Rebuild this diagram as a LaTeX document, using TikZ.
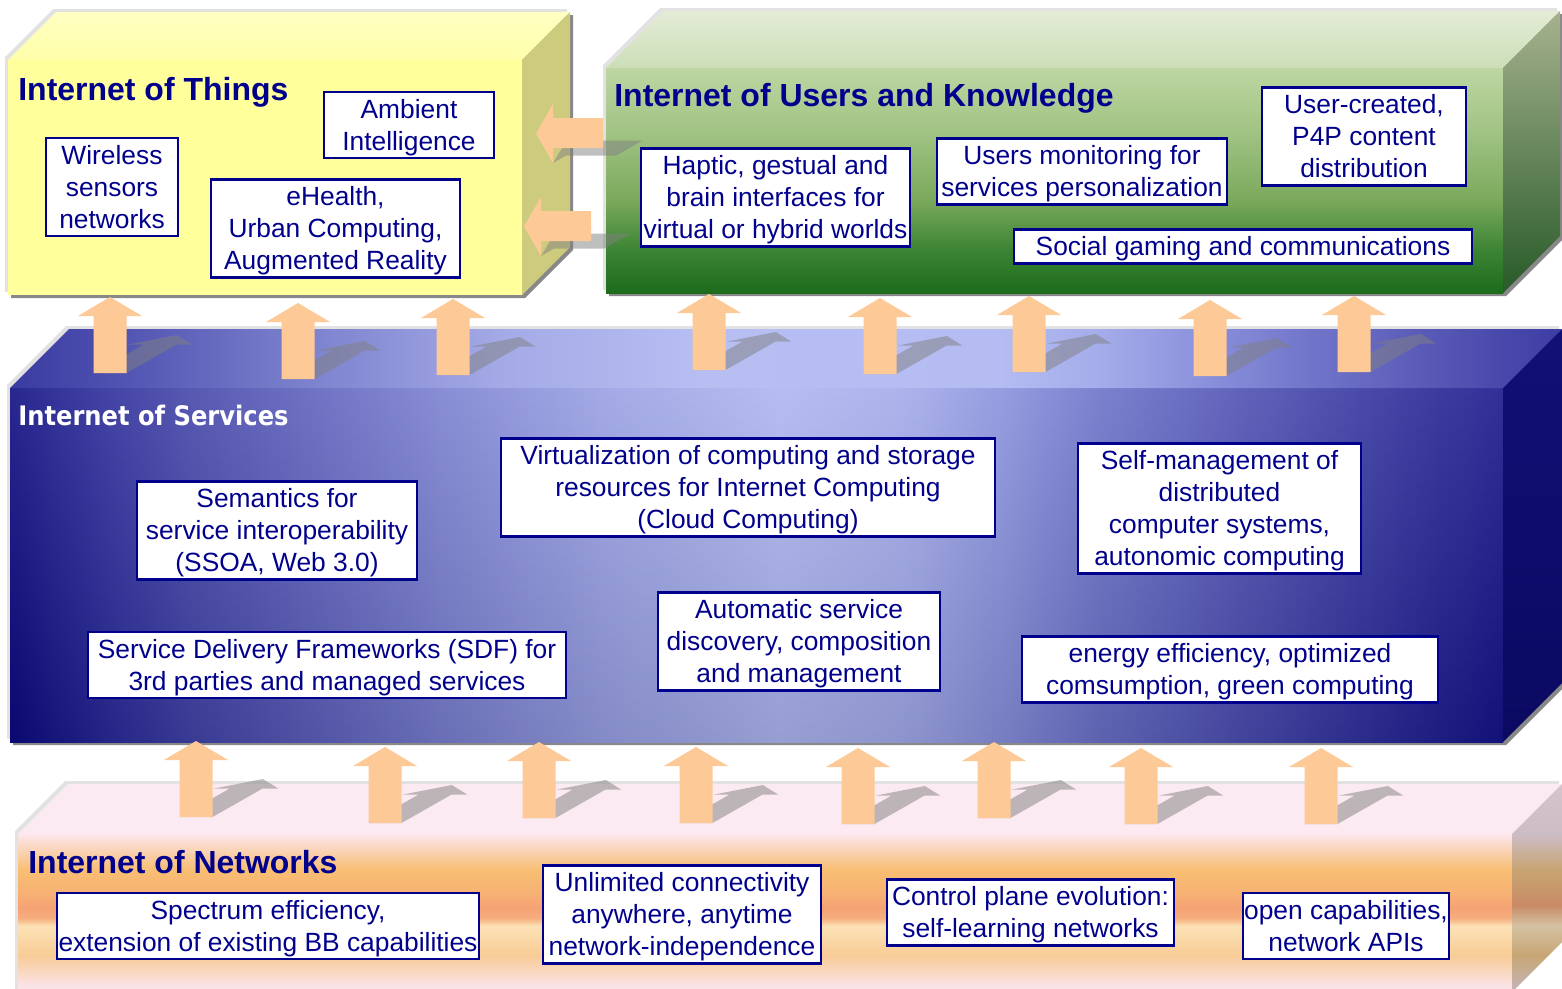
\documentclass[tikz,border=0pt]{standalone}
\usepackage{fontspec}
\setmainfont{Liberation Sans}
\newfontfamily\servicesfont[FakeStretch=0.9]{DejaVu Sans}

\definecolor{boxnavy}{RGB}{0,0,140}
\definecolor{liftpeach}{RGB}{253,201,151}
\definecolor{haloGray}{RGB}{226,226,226}
\definecolor{shadeGray}{RGB}{136,136,136}

\definecolor{thFront}{RGB}{255,255,156}
\definecolor{thTopBack}{RGB}{255,255,194}
\definecolor{thTopFront}{RGB}{255,255,170}
\definecolor{thSide}{RGB}{205,204,126}

\definecolor{usTopBack}{RGB}{228,236,214}
\definecolor{usTopFront}{RGB}{204,222,184}
\definecolor{usSideTop}{RGB}{166,178,142}
\definecolor{usSideMid}{RGB}{110,140,86}
\definecolor{usSideBottom}{RGB}{40,90,40}
\definecolor{usF1}{RGB}{190,214,162}
\definecolor{usF2}{RGB}{160,195,131}
\definecolor{usF3}{RGB}{123,169,92}
\definecolor{usF4}{RGB}{60,132,52}
\definecolor{usF5}{RGB}{28,108,28}

\definecolor{svF0}{RGB}{10,10,128}
\definecolor{svF1}{RGB}{40,40,152}
\definecolor{svF2}{RGB}{68,70,170}
\definecolor{svF3}{RGB}{90,92,186}
\definecolor{svF4}{RGB}{122,128,208}
\definecolor{svF5}{RGB}{150,158,226}
\definecolor{svF6}{RGB}{172,180,238}
\definecolor{svF7}{RGB}{162,170,234}
\definecolor{svF8}{RGB}{136,144,220}
\definecolor{svF9}{RGB}{106,112,200}
\definecolor{svF10}{RGB}{74,76,176}
\definecolor{svF11}{RGB}{42,42,152}
\definecolor{svF12}{RGB}{20,20,138}
\definecolor{svT0}{RGB}{58,58,160}
\definecolor{svT1}{RGB}{76,78,174}
\definecolor{svT2}{RGB}{122,128,204}
\definecolor{svT3}{RGB}{164,170,230}
\definecolor{svT4}{RGB}{182,190,242}
\definecolor{svT5}{RGB}{180,188,242}
\definecolor{svT6}{RGB}{164,172,234}
\definecolor{svT7}{RGB}{140,146,220}
\definecolor{svT8}{RGB}{116,120,204}
\definecolor{svT9}{RGB}{86,86,180}
\definecolor{svT10}{RGB}{60,60,164}
\definecolor{svSideTop}{RGB}{16,16,118}
\definecolor{svSideBottom}{RGB}{10,10,98}

\definecolor{nwTop}{RGB}{252,234,242}
\definecolor{nwF0}{RGB}{252,230,238}
\definecolor{nwF1}{RGB}{251,226,228}
\definecolor{nwF2}{RGB}{248,204,150}
\definecolor{nwF3}{RGB}{252,226,182}
\definecolor{nwF4}{RGB}{246,174,126}
\definecolor{nwF5}{RGB}{245,162,116}
\definecolor{nwF6}{RGB}{247,180,116}
\definecolor{nwF7}{RGB}{248,190,114}
\definecolor{nwF8}{RGB}{250,214,190}
\definecolor{nwF9}{RGB}{252,230,238}
\definecolor{nwS0}{RGB}{196,180,184}
\definecolor{nwS1}{RGB}{200,166,116}
\definecolor{nwS2}{RGB}{212,194,164}
\definecolor{nwS3}{RGB}{200,138,102}
\definecolor{nwS4}{RGB}{200,164,112}
\definecolor{nwS5}{RGB}{204,188,196}
\definecolor{nwS6}{RGB}{212,196,204}

\pgfdeclareverticalshading{usfront}{100bp}{color(0bp)=(usF5); color(25bp)=(usF5); color(34.6bp)=(usF4); color(45.7bp)=(usF3); color(60.6bp)=(usF2); color(75bp)=(usF1); color(100bp)=(usF1)}
\pgfdeclarehorizontalshading{svfront}{100bp}{color(0bp)=(svF0); color(25bp)=(svF0); color(28bp)=(svF1); color(31.4bp)=(svF2); color(34.7bp)=(svF3); color(39.7bp)=(svF4); color(44.8bp)=(svF5); color(50.8bp)=(svF6); color(54.8bp)=(svF7); color(58.2bp)=(svF8); color(61.5bp)=(svF9); color(66.5bp)=(svF10); color(71.5bp)=(svF11); color(75bp)=(svF12); color(100bp)=(svF12)}
\pgfdeclarehorizontalshading{svtop}{100bp}{color(0bp)=(svT0); color(25bp)=(svT0); color(27.9bp)=(svT1); color(34.3bp)=(svT2); color(40.8bp)=(svT3); color(47.2bp)=(svT4); color(56.9bp)=(svT5); color(60.1bp)=(svT6); color(63.3bp)=(svT7); color(66.5bp)=(svT8); color(71.1bp)=(svT9); color(75bp)=(svT10); color(100bp)=(svT10)}
\pgfdeclareverticalshading{nwfront}{100bp}{color(0bp)=(nwF0); color(25bp)=(nwF0); color(27.2bp)=(nwF1); color(36.7bp)=(nwF2); color(45.9bp)=(nwF3); color(48.4bp)=(nwF4); color(51.6bp)=(nwF5); color(57.3bp)=(nwF6); color(63.6bp)=(nwF7); color(70.6bp)=(nwF8); color(75bp)=(nwF9); color(100bp)=(nwF9)}
\pgfdeclareverticalshading{nwside}{100bp}{color(0bp)=(nwS0); color(25.5bp)=(nwS0); color(33.9bp)=(nwS1); color(41bp)=(nwS2); color(45.8bp)=(nwS3); color(54.2bp)=(nwS4); color(62.8bp)=(nwS5); color(75bp)=(nwS6); color(100bp)=(nwS6)}

\newdimen\pxu \pxu=0.02cm
\newcommand{\itemfont}{\fontsize{15}{18.2}\selectfont}
\newcommand{\itemstrut}{\rule{0pt}{1em}}
\newcommand{\titlefont}{\fontsize{18.2}{22}\selectfont\bfseries}
\newcommand{\servicetitlefont}{\servicesfont\fontsize{15.3}{19}\selectfont\bfseries}

\newcommand{\slabpath}[5]{(#1,#4) -- (#1,#2) -- ({#1+#5},{#2-#5}) -- ({#3+#5},{#2-#5}) -- ({#3+#5},{#4-#5}) -- (#3,#4) -- cycle}
\newcommand{\slabtop}[5]{(#1,#2) -- ({#1+#5},{#2-#5}) -- ({#3+#5},{#2-#5}) -- (#3,#2) -- cycle}
\newcommand{\slabside}[5]{(#3,#2) -- ({#3+#5},{#2-#5}) -- ({#3+#5},{#4-#5}) -- (#3,#4) -- cycle}
\newcommand{\liftshape}{(-16.5,0) -- (16.5,0) -- (16.5,-57) -- (32,-57) -- (0,-76) -- (-32,-57) -- (-16.5,-57) -- cycle}
\newcommand{\sideshape}{(0,-29.5) -- (17,0) -- (17,-15) -- (67,-15) -- (67,-45) -- (17,-45) -- (17,-59) -- cycle}

\begin{document}
\begin{tikzpicture}[x=0.02cm, y=-0.02cm,
    itembox/.style={draw=boxnavy, line width=1.3pt, fill=white, text=boxnavy, align=center, inner sep=0pt, font=\itemfont,
        execute at end node={\rule[-0.3em]{0pt}{0pt}}},
    layertitle/.style={anchor=base west, inner sep=0pt, text=boxnavy, font=\titlefont},
    slabhalo/.style={fill=haloGray},
    slabshade/.style={fill=shadeGray},
    liftfill/.style={fill=liftpeach},
    liftshadow/.style={fill=gray, fill opacity=0.5}]
    \useasboundingbox (0,0) rectangle (1562,988);
    \clip (0,0) rectangle (1562,988);
    \fill[white] (0,0) rectangle (1562,988);

    \fill[slabhalo, shift={(-3,-3)}] \slabpath{8}{60}{522}{295}{48};
    \fill[slabshade, shift={(3,3)}] \slabpath{8}{60}{522}{295}{48};
    \fill[thFront] (8,60) rectangle (522,295);
    \shade[top color=thTopBack, bottom color=thTopFront] \slabtop{8}{60}{522}{295}{48};
    \fill[thSide] \slabside{8}{60}{522}{295}{48};

    \fill[slabhalo, shift={(-3,-3)}] \slabpath{606}{68}{1503}{293}{57};
    \fill[slabshade, shift={(3,3)}] \slabpath{606}{68}{1503}{293}{57};
    \shade[shading=usfront] (606,68) rectangle (1503,293);
    \shade[top color=usTopBack, bottom color=usTopFront] \slabtop{606}{68}{1503}{293}{57};
    \shade[top color=usSideTop, middle color=usSideMid, bottom color=usSideBottom] \slabside{606}{68}{1503}{293}{57};

    \fill[slabhalo, shift={(-3,-3)}] \slabpath{10}{388}{1503}{742}{59};
    \fill[slabshade, shift={(3,3)}] \slabpath{10}{388}{1503}{742}{59};
    \shade[shading=svfront] (10,388) rectangle (1503,742);
    \shade[top color=white, bottom color=black, opacity=0.12] (10,388) rectangle (1503,742);
    \shade[shading=svtop] \slabtop{10}{388}{1503}{742}{59};
    \shade[top color=svSideTop, bottom color=svSideBottom] \slabside{10}{388}{1503}{742}{59};

    \fill[slabhalo, shift={(-3,-3)}] \slabpath{18}{834}{1512}{992}{50};
    \shade[shading=nwfront] (18,834) rectangle (1512,992);
    \fill[nwTop] \slabtop{18}{834}{1512}{992}{50};
    \shade[shading=nwside] \slabside{18}{834}{1512}{992}{50};

    \node[layertitle] (thTitle) at (18,100) {Internet of Things};
    \node[layertitle] (usTitle) at (614,106) {Internet of Users and Knowledge};
    \node[layertitle, text=white, font=\servicetitlefont] (svTitle) at (18,425) {Internet of Services};
    \node[layertitle] (nwTitle) at (28,873) {Internet of Networks};

    \foreach \x/\y in {110/373, 298/379, 453/375, 709/370, 880/374, 1029/372, 1210/376, 1354/372,
                       196/817, 385/823, 539/818, 696/823, 858/824, 994/818, 1141/824, 1321/824}
        \fill[liftshadow, shift={(\x,\y)}, cm={1,0,0.88,0.5,(0,0)}] \liftshape;
    \foreach \x/\y in {536/163, 524/256}
        \fill[liftshadow, shift={(\x,\y)}, cm={1,0,0.88,0.5,(0,0)}] \sideshape;
    \foreach \x/\y in {110/373, 298/379, 453/375, 709/370, 880/374, 1029/372, 1210/376, 1354/372,
                       196/817, 385/823, 539/818, 696/823, 858/824, 994/818, 1141/824, 1321/824}
        \fill[liftfill, shift={(\x,\y)}] \liftshape;
    \foreach \x/\y in {536/163, 524/256}
        \fill[liftfill, shift={(\x,\y)}] \sideshape;

    \node[itembox, minimum width=132\pxu, minimum height=98\pxu] (thWireless) at (112,187) {\itemstrut Wireless\\sensors\\networks};
    \node[itembox, minimum width=170\pxu, minimum height=65\pxu] (thAmbient) at (409,125) {\itemstrut Ambient\\Intelligence};
    \node[itembox, minimum width=249\pxu, minimum height=97\pxu] (thHealth) at (335.5,228.5) {\itemstrut eHealth,\\Urban Computing,\\Augmented Reality};

    \node[itembox, minimum width=269\pxu, minimum height=97\pxu] (usHaptic) at (775.5,197.5) {\itemstrut Haptic, gestual and\\brain interfaces for\\virtual or hybrid worlds};
    \node[itembox, minimum width=290\pxu, minimum height=65\pxu] (usMonitor) at (1082,171.5) {\itemstrut Users monitoring for\\services personalization};
    \node[itembox, minimum width=204\pxu, minimum height=97\pxu] (usCreated) at (1364,136.5) {\itemstrut User-created,\\P4P content\\distribution};
    \node[itembox, minimum width=458\pxu, minimum height=33\pxu] (usGaming) at (1243,246.5) {\itemstrut Social gaming and communications};

    \node[itembox, minimum width=280\pxu, minimum height=97\pxu] (svSemantics) at (277,530.5) {\itemstrut Semantics for\\service interoperability\\(SSOA, Web 3.0)};
    \node[itembox, minimum width=494\pxu, minimum height=97\pxu] (svVirtual) at (748,487.5) {\itemstrut Virtualization of computing and storage\\resources for Internet Computing\\(Cloud Computing)};
    \node[itembox, minimum width=283\pxu, minimum height=129\pxu] (svSelf) at (1219.5,508.5) {\itemstrut Self-management of\\distributed\\computer systems,\\autonomic computing};
    \node[itembox, minimum width=478\pxu, minimum height=64\pxu] (svDelivery) at (327,665) {\itemstrut Service Delivery Frameworks (SDF) for\\3rd parties and managed services};
    \node[itembox, minimum width=282\pxu, minimum height=97\pxu] (svDiscovery) at (799,641.5) {\itemstrut Automatic service\\discovery, composition\\and management};
    \node[itembox, minimum width=416\pxu, minimum height=65\pxu] (svEnergy) at (1230,669.5) {\itemstrut energy efficiency, optimized\\comsumption, green computing};

    \node[itembox, minimum width=422\pxu, minimum height=66\pxu] (nwSpectrum) at (268,926) {\itemstrut Spectrum efficiency,\\extension of existing BB capabilities};
    \node[itembox, minimum width=278\pxu, minimum height=97\pxu] (nwConnect) at (682,914.5) {\itemstrut Unlimited connectivity\\anywhere, anytime\\network-independence};
    \node[itembox, minimum width=287\pxu, minimum height=65\pxu] (nwControl) at (1030.5,912.5) {\itemstrut Control plane evolution:\\self-learning networks};
    \node[itembox, minimum width=206\pxu, minimum height=66\pxu] (nwOpen) at (1346,926) {\itemstrut open capabilities,\\network APIs};
\end{tikzpicture}
\end{document}
